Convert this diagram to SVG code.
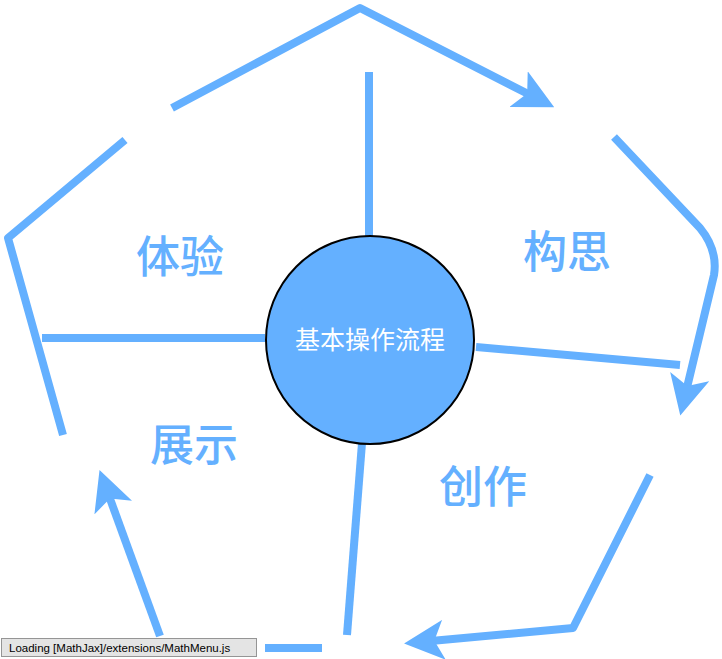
<svg xmlns="http://www.w3.org/2000/svg" width="722" height="659" viewBox="0 0 722 659">
<style>
.l{fill:none;stroke:#64b0ff;stroke-width:8;stroke-linejoin:round}
.t{font-family:"Noto Sans CJK SC",sans-serif;font-size:44px;font-weight:500;fill:#64b0ff;text-anchor:middle}
</style>
<defs>
<marker id="a" markerWidth="5" markerHeight="5" refX="3" refY="2.5" orient="auto" markerUnits="strokeWidth">
<path d="M0,0 L5,2.5 L0,5 L1.2,2.5 Z" fill="#64b0ff"/>
</marker>
</defs>
<rect width="722" height="659" fill="#fff"/>
<g id="connectors">
<path class="l" d="M172,108 L360,8 L540,100" marker-end="url(#a)"/>
<path class="l" d="M614,137 L700,228 Q718,250 714,275 L684,400" marker-end="url(#a)"/>
<path class="l" d="M650,475 L573,628 L420,642" marker-end="url(#a)"/>
<path class="l" d="M160,636 L105,485" marker-end="url(#a)"/>
<path class="l" d="M265,648 L322,648"/>
<path class="l" d="M63,435 L8,238 L125,140"/>
<path class="l" d="M369,72 L369,238"/>
<path class="l" d="M42,338 L265,338"/>
<path class="l" d="M476,347 L680,365"/>
<path class="l" d="M362,443 L347,635"/>
</g>
<g id="center">
<circle cx="370" cy="340" r="104" fill="#64b0ff" stroke="#000" stroke-width="2"/>
<text x="370" y="349" font-family="Noto Sans CJK SC,sans-serif" font-size="25" fill="#fff" text-anchor="middle">基本操作流程</text>
</g>
<g id="n1"><text class="t" x="180" y="273">体验</text></g>
<g id="n2"><text class="t" x="567" y="268">构思</text></g>
<g id="n3"><text class="t" x="483" y="503">创作</text></g>
<g id="n4"><text class="t" x="194" y="461">展示</text></g>
<g id="loading">
<rect x="1.5" y="638.5" width="255" height="18" fill="#e4e4e4" stroke="#959595"/>
<text x="9" y="652" font-family="Liberation Sans,sans-serif" font-size="11.5" fill="#000">Loading [MathJax]/extensions/MathMenu.js</text>
</g>
</svg>
